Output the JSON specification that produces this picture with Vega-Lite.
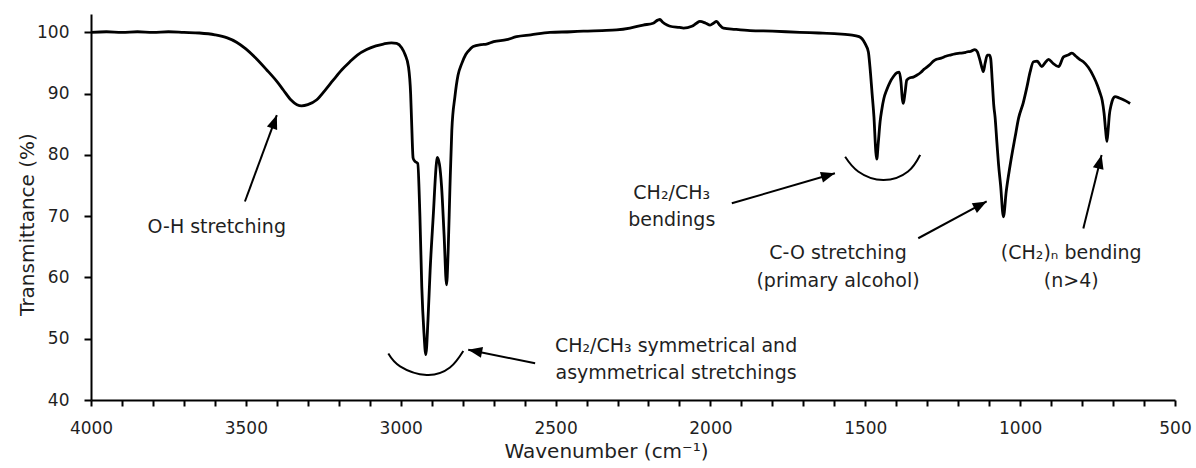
{
  "$schema": "https://vega.github.io/schema/vega-lite/v6.json",
  "width": 1084,
  "height": 386,
  "autosize": "none",
  "padding": {"left": 91, "top": 14, "right": 21, "bottom": 68},
  "background": "white",
  "config": {
    "view": {"stroke": null},
    "font": "DejaVu Sans",
    "axis": {"grid": false, "domainColor": "#000", "domainWidth": 2, "tickColor": "#000", "tickWidth": 2, "labelColor": "#1f1f1f", "titleColor": "#1f1f1f", "labelFont": "DejaVu Sans", "titleFont": "DejaVu Sans", "labelFontSize": 17, "titleFontSize": 20, "titleFontWeight": "normal"}
  },
  "datasets": {
    "spectrum": [
      {"w":4000,"T":100.0},{"w":3950,"T":100.1},{"w":3900,"T":100.0},{"w":3850,"T":100.1},{"w":3800,"T":100.0},{"w":3750,"T":100.1},{"w":3700,"T":100.0},{"w":3650,"T":99.9},{"w":3600,"T":99.6},{"w":3560,"T":99.1},{"w":3530,"T":98.4},{"w":3500,"T":97.3},{"w":3470,"T":95.9},{"w":3433,"T":93.9},{"w":3400,"T":92.0},{"w":3379,"T":90.6},{"w":3355,"T":89.0},{"w":3335,"T":88.2},{"w":3320,"T":88.0},{"w":3300,"T":88.2},{"w":3271,"T":89.0},{"w":3245,"T":90.5},{"w":3218,"T":92.2},{"w":3190,"T":93.9},{"w":3164,"T":95.2},{"w":3140,"T":96.3},{"w":3110,"T":97.2},{"w":3080,"T":97.8},{"w":3056,"T":98.1},{"w":3030,"T":98.3},{"w":3013,"T":98.2},{"w":2997,"T":97.5},{"w":2986,"T":96.4},{"w":2975,"T":94.4},{"w":2968,"T":90.0},{"w":2965,"T":85.7},{"w":2960,"T":79.5},{"w":2955,"T":79.0},{"w":2945,"T":78.6},{"w":2938,"T":70.0},{"w":2932,"T":58.5},{"w":2925,"T":51.0},{"w":2919,"T":47.4},{"w":2912,"T":53.0},{"w":2905,"T":61.2},{"w":2895,"T":70.0},{"w":2885,"T":78.5},{"w":2882,"T":79.6},{"w":2875,"T":78.5},{"w":2868,"T":74.8},{"w":2860,"T":67.0},{"w":2852,"T":58.8},{"w":2847,"T":64.0},{"w":2841,"T":74.8},{"w":2835,"T":84.0},{"w":2825,"T":89.5},{"w":2815,"T":93.0},{"w":2803,"T":94.9},{"w":2790,"T":96.4},{"w":2775,"T":97.3},{"w":2766,"T":97.7},{"w":2740,"T":98.0},{"w":2723,"T":98.1},{"w":2700,"T":98.5},{"w":2658,"T":98.8},{"w":2626,"T":99.3},{"w":2580,"T":99.6},{"w":2518,"T":100.0},{"w":2450,"T":100.1},{"w":2410,"T":100.2},{"w":2350,"T":100.3},{"w":2303,"T":100.4},{"w":2260,"T":100.7},{"w":2217,"T":101.2},{"w":2185,"T":101.5},{"w":2170,"T":102.0},{"w":2163,"T":102.1},{"w":2155,"T":101.7},{"w":2140,"T":101.2},{"w":2130,"T":101.0},{"w":2100,"T":100.8},{"w":2087,"T":100.7},{"w":2060,"T":101.0},{"w":2045,"T":101.5},{"w":2034,"T":101.8},{"w":2015,"T":101.5},{"w":2001,"T":101.2},{"w":1990,"T":101.5},{"w":1980,"T":101.8},{"w":1970,"T":101.2},{"w":1958,"T":100.7},{"w":1920,"T":100.5},{"w":1872,"T":100.3},{"w":1800,"T":100.2},{"w":1711,"T":100.0},{"w":1650,"T":99.9},{"w":1600,"T":99.8},{"w":1549,"T":99.6},{"w":1520,"T":99.3},{"w":1501,"T":98.2},{"w":1490,"T":96.8},{"w":1485,"T":94.4},{"w":1478,"T":90.0},{"w":1472,"T":86.2},{"w":1466,"T":80.5},{"w":1463,"T":79.3},{"w":1458,"T":82.0},{"w":1452,"T":85.5},{"w":1447,"T":87.3},{"w":1440,"T":89.2},{"w":1431,"T":90.6},{"w":1420,"T":91.9},{"w":1409,"T":92.8},{"w":1398,"T":93.4},{"w":1390,"T":93.5},{"w":1385,"T":92.0},{"w":1380,"T":89.0},{"w":1377,"T":88.4},{"w":1372,"T":90.0},{"w":1366,"T":92.2},{"w":1355,"T":92.6},{"w":1345,"T":92.7},{"w":1334,"T":93.0},{"w":1320,"T":93.5},{"w":1310,"T":94.0},{"w":1302,"T":94.3},{"w":1290,"T":94.8},{"w":1280,"T":95.3},{"w":1270,"T":95.6},{"w":1255,"T":95.8},{"w":1240,"T":96.1},{"w":1226,"T":96.3},{"w":1210,"T":96.5},{"w":1195,"T":96.6},{"w":1180,"T":96.7},{"w":1173,"T":96.8},{"w":1160,"T":96.9},{"w":1146,"T":97.2},{"w":1138,"T":96.8},{"w":1130,"T":95.5},{"w":1122,"T":94.0},{"w":1119,"T":93.6},{"w":1113,"T":95.0},{"w":1106,"T":96.3},{"w":1099,"T":96.3},{"w":1095,"T":95.7},{"w":1090,"T":92.0},{"w":1085,"T":88.0},{"w":1081,"T":86.2},{"w":1075,"T":82.0},{"w":1070,"T":78.6},{"w":1063,"T":75.0},{"w":1054,"T":69.9},{"w":1045,"T":74.0},{"w":1033,"T":78.1},{"w":1016,"T":83.0},{"w":1005,"T":86.0},{"w":990,"T":88.5},{"w":978,"T":91.1},{"w":968,"T":93.5},{"w":957,"T":95.2},{"w":945,"T":95.3},{"w":930,"T":94.4},{"w":920,"T":95.0},{"w":908,"T":95.6},{"w":895,"T":95.0},{"w":876,"T":94.4},{"w":860,"T":96.0},{"w":845,"T":96.3},{"w":833,"T":96.6},{"w":820,"T":96.1},{"w":808,"T":95.6},{"w":796,"T":95.2},{"w":780,"T":94.3},{"w":763,"T":92.8},{"w":750,"T":91.3},{"w":742,"T":90.1},{"w":735,"T":88.9},{"w":729,"T":86.8},{"w":724,"T":84.0},{"w":720,"T":82.2},{"w":716,"T":84.0},{"w":712,"T":86.5},{"w":706,"T":88.2},{"w":700,"T":89.2},{"w":694,"T":89.5},{"w":680,"T":89.3},{"w":667,"T":89.0},{"w":655,"T":88.7},{"w":645,"T":88.4}
    ],
    "labels": [
      {"label":"O-H stretching","w":3594,"T":67.3},
      {"label":"CH₂/CH₃ symmetrical and","w":2111,"T":47.9},
      {"label":"asymmetrical stretchings","w":2111,"T":43.5},
      {"label":"CH₂/CH₃","w":2125,"T":72.8},
      {"label":"bendings","w":2125,"T":68.4},
      {"label":"C-O stretching","w":1588,"T":63.0},
      {"label":"(primary alcohol)","w":1588,"T":58.4},
      {"label":"(CH₂)ₙ bending","w":835,"T":63.0},
      {"label":"(n>4)","w":835,"T":58.4}
    ],
    "arrows": [
      {"id":"oh","w":3503,"T":72.4,"w2":3400,"T2":86.5},
      {"id":"chs","w":2566,"T":46.0,"w2":2782,"T2":48.2},
      {"id":"chb","w":1931,"T":72.1,"w2":1598,"T2":77.0},
      {"id":"co","w":1329,"T":66.4,"w2":1108,"T2":72.4},
      {"id":"chn","w":796,"T":68.0,"w2":737,"T2":80.0}
    ],
    "heads": [
      {"id":"oh","w":3400,"T":86.5},
      {"id":"chs","w":2782,"T":48.2},
      {"id":"chb","w":1598,"T":77.0},
      {"id":"co","w":1108,"T":72.4},
      {"id":"chn","w":737,"T":80.0}
    ],
    "arcs": [
      {"arc":"a","w":3040,"T":47.6},{"arc":"a","w":3002,"T":45.5},{"arc":"a","w":2916,"T":44.1},{"arc":"a","w":2841,"T":45.3},{"arc":"a","w":2798,"T":48.0},
      {"arc":"b","w":1565,"T":79.7},{"arc":"b","w":1523,"T":77.3},{"arc":"b","w":1442,"T":75.9},{"arc":"b","w":1362,"T":77.3},{"arc":"b","w":1323,"T":80.0}
    ]
  },
  "encoding": {
    "x": {"field": "w", "type": "quantitative",
      "scale": {"domain": [500, 4000], "reverse": true, "nice": false, "zero": false},
      "axis": {"title": "Wavenumber (cm⁻¹)", "values": [4000,3900,3800,3700,3600,3500,3400,3300,3200,3100,3000,2900,2800,2700,2600,2500,2400,2300,2200,2100,2000,1900,1800,1700,1600,1500,1400,1300,1200,1100,1000,900,800,700,600,500],
        "format": "d", "labelExpr": "datum.value % 500 === 0 ? datum.label : ''", "labelOverlap": false, "labelFlush": false,
        "tickSize": 6, "labelPadding": 14, "titleX": 515, "titleY": 57, "titleBaseline": "alphabetic", "titleAlign": "center"}},
    "y": {"field": "T", "type": "quantitative",
      "scale": {"domain": [40, 103], "nice": false, "zero": false},
      "axis": {"title": "Transmittance (%)", "values": [40,50,60,70,80,90,100], "tickSize": 7, "labelPadding": 15,
        "titleX": -58, "titleY": 210, "titleAngle": -90, "titleBaseline": "alphabetic", "titleAlign": "center"}}
  },
  "layer": [
    {"data": {"name": "spectrum"}, "mark": {"type": "line", "color": "#000", "strokeWidth": 2.8, "interpolate": "monotone", "strokeJoin": "round"}},
    {"data": {"name": "arcs"}, "mark": {"type": "line", "color": "#000", "strokeWidth": 2, "interpolate": "natural"}, "encoding": {"detail": {"field": "arc"}}},
    {"data": {"name": "arrows"}, "mark": {"type": "rule", "color": "#000", "strokeWidth": 2}, "encoding": {"x2": {"field": "w2"}, "y2": {"field": "T2"}}},
    {"data": {"name": "heads"}, "transform": [{"filter": "datum.id === 'oh'"}], "mark": {"type": "point", "shape": "M0,0L0.78,2L-0.78,2Z", "size": 196, "filled": true, "color": "#000", "opacity": 1, "angle": 20}},
    {"data": {"name": "heads"}, "transform": [{"filter": "datum.id === 'chs'"}], "mark": {"type": "point", "shape": "M0,0L0.78,2L-0.78,2Z", "size": 196, "filled": true, "color": "#000", "opacity": 1, "angle": 281}},
    {"data": {"name": "heads"}, "transform": [{"filter": "datum.id === 'chb'"}], "mark": {"type": "point", "shape": "M0,0L0.78,2L-0.78,2Z", "size": 196, "filled": true, "color": "#000", "opacity": 1, "angle": 74}},
    {"data": {"name": "heads"}, "transform": [{"filter": "datum.id === 'co'"}], "mark": {"type": "point", "shape": "M0,0L0.78,2L-0.78,2Z", "size": 196, "filled": true, "color": "#000", "opacity": 1, "angle": 62}},
    {"data": {"name": "heads"}, "transform": [{"filter": "datum.id === 'chn'"}], "mark": {"type": "point", "shape": "M0,0L0.78,2L-0.78,2Z", "size": 196, "filled": true, "color": "#000", "opacity": 1, "angle": 14}},
    {"data": {"name": "labels"}, "mark": {"type": "text", "font": "DejaVu Sans", "fontSize": 19, "color": "#1f1f1f", "align": "center", "baseline": "alphabetic"}, "encoding": {"text": {"field": "label"}}}
  ]
}
